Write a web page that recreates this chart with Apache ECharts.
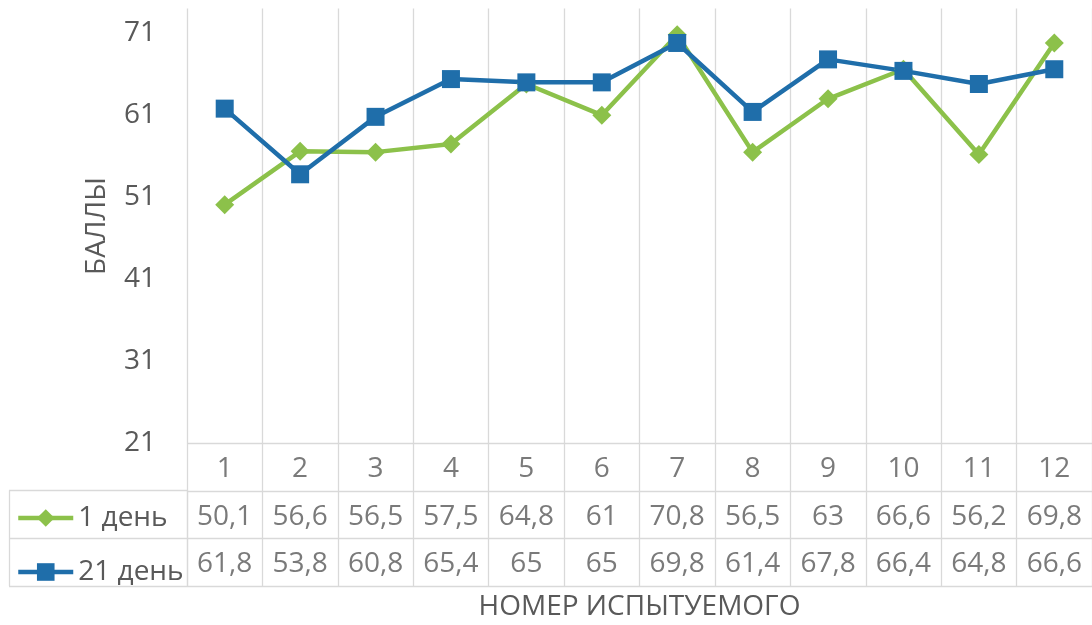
<!DOCTYPE html>
<html>
<head>
<meta charset="utf-8">
<script src="https://cdn.jsdelivr.net/npm/echarts@6/dist/echarts.min.js"></script>
<style>
  html, body { margin: 0; padding: 0; background: #fff; }
  #main { width: 1092px; height: 625px; }
</style>
</head>
<body>
<div id="main"></div>
<script>
// данные
var categories = ['1', '2', '3', '4', '5', '6', '7', '8', '9', '10', '11', '12'];
var day1 = [50.1, 56.6, 56.5, 57.5, 64.8, 61, 70.8, 56.5, 63, 66.6, 56.2, 69.8];
var day21 = [61.8, 53.8, 60.8, 65.4, 65, 65, 69.8, 61.4, 67.8, 66.4, 64.8, 66.6];
var seriesNames = ['1 день', '21 день'];
var yMin = 21, yMax = 74, yStep = 10;

var font = '"Open Sans", "Noto Sans", sans-serif';
var textColor = '#595959';
var gridColor = '#d9d9d9';
var green = '#8cc14a';
var blue = '#1f6eaa';

function fmt(v) {
    return String(v).replace('.', ',');
}

// ячейки таблицы данных
var tableCells = [];
for (var i = 0; i < categories.length; i++) {
    tableCells.push([i, 0, categories[i]]);
    tableCells.push([i, 1, fmt(day1[i])]);
    tableCells.push([i, 2, fmt(day21[i])]);
}

var chart = echarts.init(document.getElementById('main'));

var option = {
    animation: false,
    textStyle: { fontFamily: font },
    grid: [
        { left: 187, right: 0, top: 8.5, bottom: 181.5 },   // график
        { left: 187, right: 0, top: 443.5, bottom: 39 },    // таблица
        { left: 9, width: 178, top: 490.5, bottom: 39 }     // колонка легенды
    ],
    xAxis: [
        {
            type: 'category', gridIndex: 0, data: categories, boundaryGap: true,
            axisLine: { show: false }, axisTick: { show: false }, axisLabel: { show: false },
            splitLine: { show: true, lineStyle: { color: gridColor, width: 1.3 } }
        },
        {
            type: 'category', gridIndex: 1, data: categories, boundaryGap: true,
            axisLine: { show: false }, axisTick: { show: false }, axisLabel: { show: false },
            splitLine: { show: true, lineStyle: { color: gridColor, width: 1.3 } },
            name: 'НОМЕР ИСПЫТУЕМОГО', nameLocation: 'middle', nameGap: 7,
            nameTextStyle: { fontSize: 28, color: textColor, fontFamily: font }
        },
        {
            type: 'value', gridIndex: 2, min: 0, max: 1, interval: 1,
            axisLine: { show: false }, axisTick: { show: false }, axisLabel: { show: false },
            splitLine: { show: true, lineStyle: { color: gridColor, width: 1.3 } }
        }
    ],
    yAxis: [
        {
            type: 'value', gridIndex: 0, min: yMin, max: yMax, interval: yStep,
            axisLine: { show: false }, axisTick: { show: false },
            splitLine: { show: false },
            axisLabel: { fontSize: 28, color: textColor, fontFamily: font, margin: 31, showMaxLabel: false },
            name: 'БАЛЛЫ', nameLocation: 'middle', nameRotate: 90, nameGap: 76,
            nameTextStyle: { fontSize: 28, color: textColor, fontFamily: font }
        },
        {
            type: 'category', gridIndex: 1, data: ['', seriesNames[0], seriesNames[1]], inverse: true,
            axisLine: { show: false }, axisTick: { show: false }, axisLabel: { show: false },
            splitLine: { show: true, lineStyle: { color: gridColor, width: 1.3 } }
        },
        {
            type: 'category', gridIndex: 2, data: seriesNames, inverse: true,
            axisLine: { show: false }, axisTick: { show: false }, axisLabel: { show: false },
            splitLine: { show: true, lineStyle: { color: gridColor, width: 1.3 } }
        }
    ],
    legend: {
        data: seriesNames,
        orient: 'vertical',
        left: 16,
        top: 504,
        padding: 0,
        itemWidth: 55,
        itemHeight: 22,
        itemGap: 26,
        selectedMode: false,
        lineStyle: { width: 4.5 },
        textStyle: { fontSize: 28, color: textColor, fontFamily: font, lineHeight: 22 }
    },
    series: [
        {
            name: seriesNames[0], type: 'line', data: day1,
            xAxisIndex: 0, yAxisIndex: 0,
            symbol: 'diamond', symbolSize: 19,
            lineStyle: { color: green, width: 4.5 },
            itemStyle: { color: green }
        },
        {
            name: seriesNames[1], type: 'line', data: day21,
            xAxisIndex: 0, yAxisIndex: 0,
            symbol: 'rect', symbolSize: 18,
            lineStyle: { color: blue, width: 4.5 },
            itemStyle: { color: blue }
        },
        {
            name: 'table', type: 'scatter', data: tableCells,
            xAxisIndex: 1, yAxisIndex: 1,
            symbolSize: 1, silent: true,
            itemStyle: { color: 'transparent' },
            label: {
                show: true, position: 'inside', offset: [0, 2],
                fontSize: 28, color: textColor, fontFamily: font,
                formatter: function (p) { return p.data[2]; }
            }
        }
    ]
};

chart.setOption(option);
</script>
</body>
</html>
